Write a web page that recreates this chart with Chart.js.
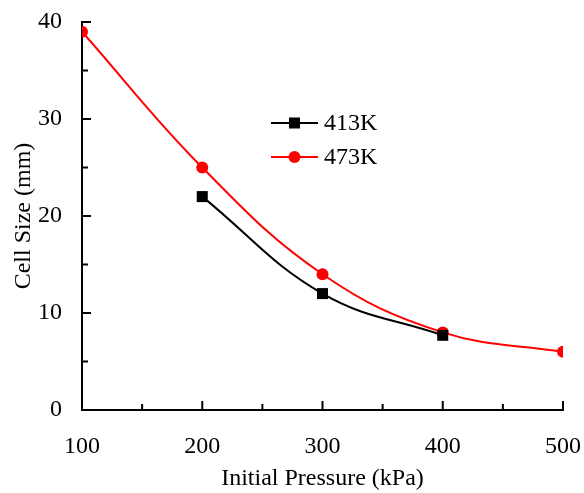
<!DOCTYPE html>
<html>
<head>
<meta charset="utf-8">
<script src="https://cdn.jsdelivr.net/npm/chart.js@4"></script>
<style>
  html, body { margin: 0; padding: 0; background: #fff; }
  #wrap { width: 584px; height: 493px; position: relative; }
</style>
</head>
<body>
<div id="wrap"><canvas id="chart" width="584" height="493"></canvas></div>
<script>
// pressure (kPa) and cell size (mm)
const pressure413 = [200, 300, 400];
const cell413 = [22, 12, 7.7];
const pressure473 = [100, 200, 300, 400, 500];
const cell473 = [39, 25, 14, 8, 6];
const seriesNames = ['413K', '473K'];
const xMajor = [100, 200, 300, 400, 500];
const xMinor = [150, 250, 350, 450];
const yMajor = [0, 10, 20, 30, 40];
const yMinor = [5, 15, 25, 35];

const serif = "'Liberation Serif', 'Times New Roman', serif";

// inward tick marks + legend placed inside the plot
const decorations = {
  id: 'decorations',
  afterDatasetsDraw(chart) {
    const { ctx, scales: { x, y } } = chart;
    const axisY = y.getPixelForValue(0);
    const axisX = x.getPixelForValue(100);
    ctx.save();
    ctx.strokeStyle = '#000';
    ctx.lineWidth = 2;
    ctx.beginPath();
    xMajor.forEach(v => { const px = x.getPixelForValue(v); ctx.moveTo(px, axisY); ctx.lineTo(px, axisY - 9); });
    xMinor.forEach(v => { const px = x.getPixelForValue(v); ctx.moveTo(px, axisY); ctx.lineTo(px, axisY - 6); });
    yMajor.forEach(v => { const py = y.getPixelForValue(v); ctx.moveTo(axisX, py); ctx.lineTo(axisX + 9, py); });
    yMinor.forEach(v => { const py = y.getPixelForValue(v); ctx.moveTo(axisX, py); ctx.lineTo(axisX + 6, py); });
    ctx.stroke();

    // legend
    const lx = 271, ly = 123, gap = 34;
    chart.data.datasets.forEach((ds, i) => {
      const yy = ly + i * gap;
      ctx.strokeStyle = ds.borderColor;
      ctx.lineWidth = 2;
      ctx.beginPath();
      ctx.moveTo(lx, yy);
      ctx.lineTo(lx + 47, yy);
      ctx.stroke();
      ctx.fillStyle = ds.backgroundColor;
      ctx.beginPath();
      if (ds.pointStyle === 'rect') {
        ctx.rect(lx + 23.5 - 5.5, yy - 5.5, 11, 11);
      } else {
        ctx.arc(lx + 23.5, yy, 6, 0, Math.PI * 2);
      }
      ctx.fill();
      ctx.fillStyle = '#000';
      ctx.font = '24px ' + serif;
      ctx.textBaseline = 'middle';
      ctx.textAlign = 'left';
      ctx.fillText(ds.label, lx + 53, yy + 1);
    });
    ctx.restore();
  }
};

new Chart(document.getElementById('chart'), {
  type: 'line',
  data: {
    datasets: [
      {
        label: seriesNames[0],
        data: pressure413.map((p, i) => ({ x: p, y: cell413[i] })),
        borderColor: '#000000',
        backgroundColor: '#000000',
        borderWidth: 2,
        pointStyle: 'rect',
        pointRadius: 7.8,
        pointBorderWidth: 0,
        tension: 0.4
      },
      {
        label: seriesNames[1],
        data: pressure473.map((p, i) => ({ x: p, y: cell473[i] })),
        borderColor: '#FF0000',
        backgroundColor: '#FF0000',
        borderWidth: 2,
        pointStyle: 'circle',
        pointRadius: 6,
        pointBorderWidth: 0,
        tension: 0.4
      }
    ]
  },
  options: {
    responsive: false,
    animation: false,
    layout: { padding: { top: 22, right: 21, left: 0, bottom: 0 } },
    plugins: { legend: { display: false }, tooltip: { enabled: false } },
    scales: {
      x: {
        type: 'linear',
        min: 100, max: 500,
        afterFit(scale) { scale.height = 83; scale.paddingLeft = 0; scale.paddingRight = 0; },
        ticks: { stepSize: 100, color: '#000', padding: 22, font: { family: serif, size: 24 } },
        grid: { display: true, drawOnChartArea: false, drawTicks: false },
        border: { display: true, color: '#000', width: 2 },
        title: { display: true, text: 'Initial Pressure (kPa)', color: '#000', padding: { top: 0, bottom: 0 }, font: { family: serif, size: 24 } }
      },
      y: {
        min: 0, max: 40,
        afterFit(scale) { scale.width = 82; scale.paddingTop = 0; scale.paddingBottom = 0; },
        ticks: { stepSize: 10, color: '#000', padding: 20, font: { family: serif, size: 24 } },
        grid: { display: true, drawOnChartArea: false, drawTicks: false },
        border: { display: true, color: '#000', width: 2 },
        title: { display: true, text: 'Cell Size (mm)', color: '#000', padding: { top: 9, bottom: 0 }, font: { family: serif, size: 24 } }
      }
    }
  },
  plugins: [decorations]
});
</script>
</body>
</html>
